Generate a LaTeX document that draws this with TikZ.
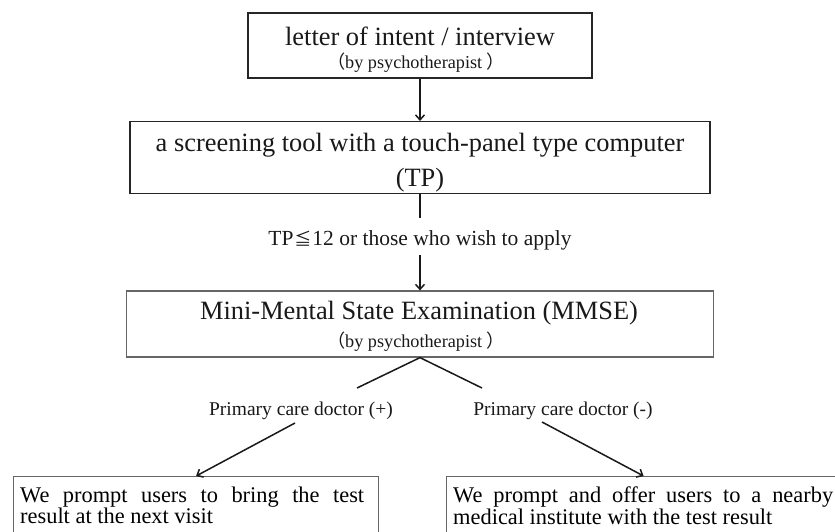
\documentclass[tikz,border=0pt]{standalone}
\usepackage{fontspec}
\setmainfont{Liberation Serif}
\newfontfamily\cjk{Noto Sans CJK JP}
\usetikzlibrary{arrows.meta}
\newcommand\fsz[2]{\fontsize{#1}{#2}\selectfont}
\hyphenpenalty=10000
\begin{document}
\begin{tikzpicture}[x=1pt,y=-1pt,
  box/.style={draw=black!85, line width=1.1pt, inner sep=0pt},
  gbox/.style={draw=black!60, line width=1.2pt, inner sep=0pt},
  txt/.style={inner sep=0pt, anchor=base, text=black!90},
  con/.style={draw=black!90, line width=1.5pt},
  arr/.style={con, -{Straight Barb[length=5pt,width=9pt]}},
]
\useasboundingbox (0,0) rectangle (835,531);
\clip (0,0) rectangle (835,531);

% box 1
\node[box, minimum width=344pt, minimum height=65pt] (b1) at (420,45.5) {};
\node[txt] (t1a) at (420,45) {\fsz{26.4}{30}letter of intent / interview};
\node[txt] (t1b) at (416,68) {\fsz{18.2}{22}{\cjk （}by psychotherapist {\cjk ）}};

% box 2
\node[box, minimum width=580pt, minimum height=72pt] (b2) at (420,157.5) {};
\node[txt] (t2a) at (420,151) {\fsz{26.4}{30}a screening tool with a touch-panel type computer};
\node[txt] (t2b) at (420,186) {\fsz{26.4}{30}(TP)};

% TP label
\node[txt, text height=27pt, text depth=10pt] (lbl) at (420,245)
  {\fsz{21.5}{25}TP\kern1pt{\cjk\fsz{17}{20}≦}\kern1pt 12 or those who wish to apply};

% box 3
\node[gbox, minimum width=587pt, minimum height=66pt] (b3) at (420,324) {};
\node[txt] (t3a) at (419,319) {\fsz{26.4}{30}Mini-Mental State Examination (MMSE)};
\node[txt] (t3b) at (416,347) {\fsz{18.2}{22}{\cjk （}by psychotherapist {\cjk ）}};

% branch labels
\node[txt] (lp) at (301,415) {\fsz{19.5}{23}Primary care doctor (+)};
\node[txt] (lm) at (563,415) {\fsz{19.5}{23}Primary care doctor (-)};

% bottom boxes
\node[gbox, anchor=north west, minimum width=365pt, minimum height=90pt] (b4) at (13,476) {};
\node[gbox, anchor=north west, minimum width=394pt, minimum height=90pt] (b5) at (446,476) {};
\node[inner sep=0pt, anchor=north west, text width=344pt, align=justify] (t4) at (20,486.7)
  {\fsz{22.4}{26}We prompt users to bring the test\linebreak result at the next visit};
\node[inner sep=0pt, anchor=north west, text width=380pt, align=justify] (t5) at (453,486.7)
  {\fsz{22.4}{26}We prompt and offer users to a nearby\linebreak medical institute with the test result};

% connectors
\coordinate (dl) at (357,388);
\coordinate (dr) at (482,388);
\coordinate (al) at (295,423);
\coordinate (ar) at (542,422);

\draw[arr] (b1.south) -- (b2.north);
\draw[con] (b2.south) -- (lbl.north);
\draw[arr] (lbl.south) -- (b3.north);
\draw[con] (dl) -- (b3.south) -- (dr);
\draw[arr] (al) -- (b4.north);
\draw[arr] (ar) -- (b5.north);
\end{tikzpicture}
\end{document}
